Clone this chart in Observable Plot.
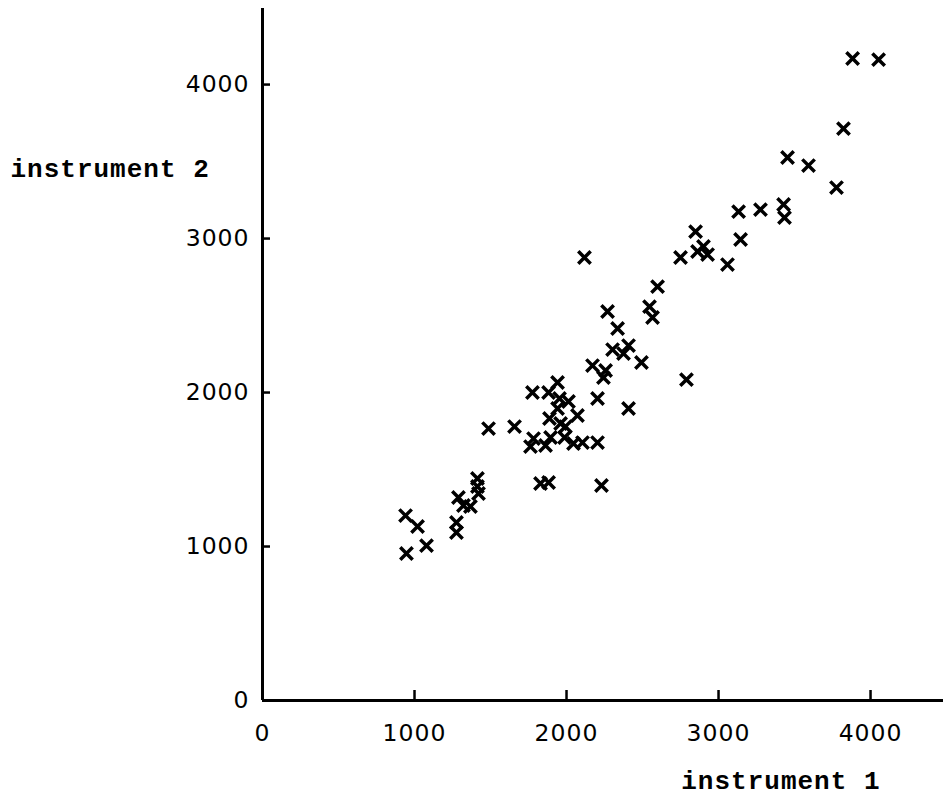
<!DOCTYPE html>
<html>
<head>
<meta charset="utf-8">
<script src="https://cdn.jsdelivr.net/npm/d3@7"></script>
<script src="https://cdn.jsdelivr.net/npm/@observablehq/plot@0.6"></script>
<style>
  html, body { margin: 0; padding: 0; background: #fff; }
  #chart { width: 943px; height: 799px; }
</style>
</head>
<body>
<div id="chart"></div>
<script>
// Readings of instrument 1 (x) and instrument 2 (y)
const instrument1 = [
  941, 1020, 947, 1079, 1276, 1276, 1289, 1322, 1368, 1414, 1414, 1421,
  1763, 1783, 1862, 1895, 1987, 2046, 2105, 2204, 1829, 1882, 2230,
  1487, 1658, 1776, 1941, 1882, 1954, 2013, 1941, 1888, 1961, 1993, 2072,
  2204, 2408, 2171, 2257, 2243, 2493, 2375, 2303, 2408, 2336, 2270, 2546,
  2566, 2599, 2750, 2118, 2789, 2849, 2901, 2862, 2928, 3059, 3145, 3132,
  3276, 3428, 3434, 3454, 3592, 3776, 3822, 3882, 4053
];
const instrument2 = [
  1201, 1130, 955, 1006, 1156, 1091, 1318, 1266, 1260, 1442, 1390, 1344,
  1649, 1701, 1656, 1708, 1708, 1669, 1675, 1675, 1409, 1416, 1396,
  1766, 1779, 2000, 2065, 2000, 1961, 1942, 1896, 1831, 1799, 1779, 1851,
  1961, 1896, 2175, 2143, 2097, 2195, 2253, 2279, 2305, 2416, 2526, 2558,
  2487, 2688, 2877, 2877, 2084, 3045, 2948, 2916, 2896, 2831, 2994, 3175,
  3188, 3221, 3136, 3526, 3474, 3331, 3714, 4169, 4162
];
const xTicks = [0, 1000, 2000, 3000, 4000];
const yTicks = [0, 1000, 2000, 3000, 4000];
const xTitle = "instrument 1";
const yTitle = "instrument 2";

const points = instrument1.map((x, i) => ({x, y: instrument2[i]}));
const mono = "'Liberation Mono', 'DejaVu Sans Mono', monospace";

const chart = Plot.plot({
  width: 943,
  height: 799,
  marginLeft: 262,
  marginRight: 0,
  marginTop: 8,
  marginBottom: 99,
  style: {fontFamily: "'DejaVu Sans', sans-serif", fontSize: "23.5px", color: "#000", background: "#fff", letterSpacing: "1px"},
  x: {domain: [0, 4480]},
  y: {domain: [0, 4494]},
  marks: [
    Plot.axisX({ticks: xTicks, tickSize: 0, tickPadding: 24, label: null, tickFormat: d => String(d)}),
    Plot.axisY({ticks: yTicks, tickSize: 0, tickPadding: 13, label: null, tickFormat: d => String(d)}),
    // inward tick marks (zero-length rules stretched by negative insets)
    Plot.ruleX(xTicks.filter(d => d > 0), {x: d => d, y1: 0, y2: 0, insetTop: -10, stroke: "#000", strokeWidth: 2.5}),
    Plot.ruleY(yTicks.filter(d => d > 0), {y: d => d, x1: 0, x2: 0, insetRight: -8, stroke: "#000", strokeWidth: 2.5}),
    Plot.ruleX([0], {stroke: "#000", strokeWidth: 3}),
    Plot.ruleY([0], {stroke: "#000", strokeWidth: 3}),
    Plot.dot(points, {x: "x", y: "y", symbol: "times", r: 5.7, stroke: "#000", strokeWidth: 3.5}),
    Plot.text([yTitle], {frameAnchor: "top-left", dx: -252, dy: 160, textAnchor: "start", lineAnchor: "middle",
      fontFamily: mono, fontSize: 26, fontWeight: "bold", fill: "#000"}),
    Plot.text([xTitle], {frameAnchor: "bottom-right", dx: -63, dy: 80, textAnchor: "end", lineAnchor: "middle",
      fontFamily: mono, fontSize: 26, fontWeight: "bold", fill: "#000"})
  ]
});
document.getElementById("chart").appendChild(chart);
</script>
</body>
</html>
